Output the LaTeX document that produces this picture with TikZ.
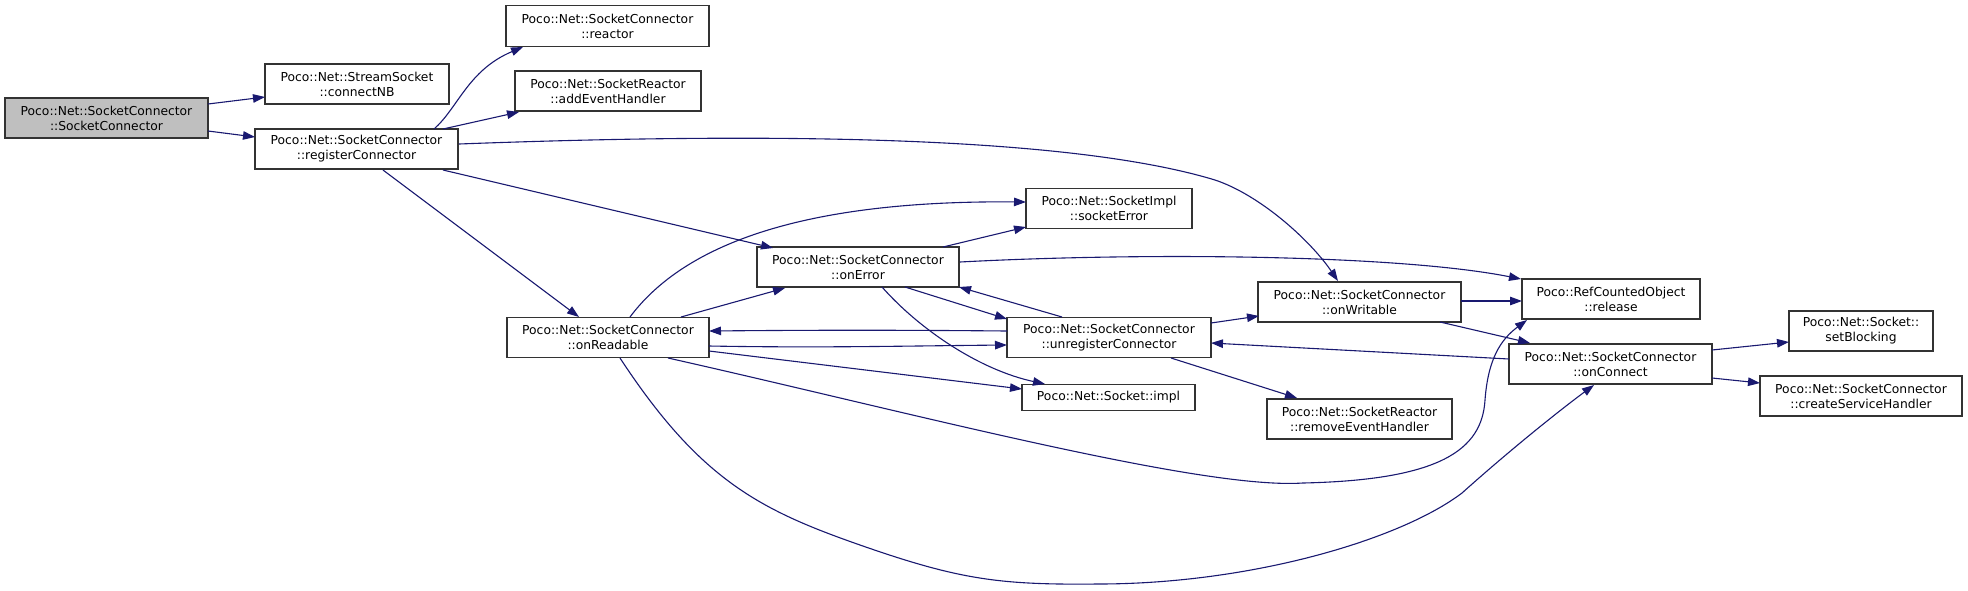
\documentclass[tikz,border=0pt]{standalone}
\usepackage{fontspec}
\setmainfont{DejaVu Sans}
\usetikzlibrary{arrows.meta}
\definecolor{edgecol}{HTML}{191970}
\definecolor{nodeborder}{HTML}{333333}
\definecolor{grayfill}{HTML}{BFBFBF}
\tikzset{
  box/.style={draw=nodeborder, line width=1.1pt, fill=white, rectangle, inner sep=0pt,
    minimum height=40pt, align=center, font=\fontsize{12.3}{15}\selectfont},
  onebox/.style={box, minimum height=26pt},
  edge/.style={draw=edgecol, line width=1.1pt, -{Triangle[length=12pt,width=8.5pt]}},
}
\begin{document}
\begin{tikzpicture}[x=1pt,y=-1pt]
\useasboundingbox (0,0) rectangle (1968,590);
% nodes
\node[box, fill=grayfill, minimum width=203pt] (sc) at (106.5,118) {Poco::Net::SocketConnector\\::SocketConnector};
\node[box, minimum width=184pt] (cnb) at (357,84) {Poco::Net::StreamSocket\\::connectNB};
\node[box, minimum width=203pt] (regc) at (356.5,149) {Poco::Net::SocketConnector\\::registerConnector};
\node[box, minimum width=203pt, minimum height=41pt] (react) at (607.5,26) {Poco::Net::SocketConnector\\::reactor};
\node[box, minimum width=186pt] (addeh) at (608,91) {Poco::Net::SocketReactor\\::addEventHandler};
\node[box, minimum width=202pt] (onread) at (608,337.5) {Poco::Net::SocketConnector\\::onReadable};
\node[box, minimum width=202pt] (onerr) at (858,267) {Poco::Net::SocketConnector\\::onError};
\node[box, minimum width=166pt] (sockerr) at (1109,208.5) {Poco::Net::SocketImpl\\::socketError};
\node[box, minimum width=204pt] (unreg) at (1109,337.5) {Poco::Net::SocketConnector\\::unregisterConnector};
\node[onebox, minimum width=173pt] (impl) at (1108.5,397.5) {Poco::Net::Socket::impl};
\node[box, minimum width=203pt] (onwr) at (1359.5,302) {Poco::Net::SocketConnector\\::onWritable};
\node[box, minimum width=185pt] (remeh) at (1359.5,419) {Poco::Net::SocketReactor\\::removeEventHandler};
\node[box, minimum width=178pt] (rel) at (1611,299) {Poco::RefCountedObject\\::release};
\node[box, minimum width=203pt] (onconn) at (1610.5,364) {Poco::Net::SocketConnector\\::onConnect};
\node[box, minimum width=144pt] (setb) at (1861,331) {Poco::Net::Socket::\\setBlocking};
\node[box, minimum width=202pt] (csh) at (1861,396) {Poco::Net::SocketConnector\\::createServiceHandler};
% edges
\draw[edge] ([shift={(101.5,-14)}]sc.center) -- ([shift={(-92,13)}]cnb.center);
\draw[edge] ([shift={(101.5,13)}]sc.center) -- ([shift={(-101.5,-12)}]regc.center);
\draw[edge] ([shift={(77.5,-20)}]regc.center) .. controls (458,108) and (468,70) .. ([shift={(-84.5,21)}]react.center);
\draw[edge] ([shift={(86.5,-20)}]regc.center) -- ([shift={(-89,21)}]addeh.center);
\draw[edge] ([shift={(102.5,-5)}]regc.center) .. controls (700,135) and (1050,130) .. (1215,180) .. controls (1260,195) and (1310,240) .. ([shift={(-21.5,-21)}]onwr.center);
\draw[edge] ([shift={(86.5,21)}]regc.center) -- ([shift={(-85,-19)}]onerr.center);
\draw[edge] ([shift={(26.5,21)}]regc.center) -- ([shift={(-29,-20.5)}]onread.center);
\draw[edge] ([shift={(22,-20.5)}]onread.center) .. controls (680,250) and (790,200) .. ([shift={(-83,-6.5)}]sockerr.center);
\draw[edge] ([shift={(73,-20.5)}]onread.center) -- ([shift={(-73,21)}]onerr.center);
\draw[edge] ([shift={(101,8.5)}]onread.center) .. controls (820,348) and (900,346) .. ([shift={(-102,7.5)}]unreg.center);
\draw[edge] ([shift={(-102,-6.5)}]unreg.center) .. controls (900,330) and (820,330) .. ([shift={(101,-6.5)}]onread.center);
\draw[edge] ([shift={(101,13.5)}]onread.center) -- ([shift={(-86.5,-8.5)}]impl.center);
\draw[edge] ([shift={(60,20.5)}]onread.center) .. controls (900,410) and (1200,490) .. (1303,483) .. controls (1440,480) and (1482,450) .. (1485,400) .. controls (1488,360) and (1500,340) .. ([shift={(-84,21)}]rel.center);
\draw[edge] ([shift={(12,20.5)}]onread.center) .. controls (700,480) and (760,510) .. (860,545) .. controls (960,580) and (1000,585) .. (1098,584) .. controls (1250,584) and (1400,540) .. (1462,493) .. controls (1510,450) and (1560,410) .. ([shift={(-16.5,21)}]onconn.center);
\draw[edge] ([shift={(85,-20)}]onerr.center) -- ([shift={(-83,18.5)}]sockerr.center);
\draw[edge] ([shift={(102,-5)}]onerr.center) .. controls (1150,252) and (1400,255) .. ([shift={(-90,-20)}]rel.center);
\draw[edge] ([shift={(47,20)}]onerr.center) -- ([shift={(-102,-18.5)}]unreg.center);
\draw[edge] ([shift={(-47,-20.5)}]unreg.center) -- ([shift={(101,20)}]onerr.center);
\draw[edge] ([shift={(24,20)}]onerr.center) .. controls (920,330) and (980,370) .. ([shift={(-63.5,-13.5)}]impl.center);
\draw[edge] ([shift={(102,-14.5)}]unreg.center) -- ([shift={(-100.5,14)}]onwr.center);
\draw[edge] ([shift={(62,20.5)}]unreg.center) -- ([shift={(-62.5,-21)}]remeh.center);
\draw[edge] ([shift={(101.5,-1)}]onwr.center) -- ([shift={(-89,2)}]rel.center);
\draw[edge] ([shift={(80.5,20)}]onwr.center) -- ([shift={(-80.5,-21)}]onconn.center);
\draw[edge] ([shift={(-101.5,-5)}]onconn.center) -- ([shift={(102,5.5)}]unreg.center);
\draw[edge] ([shift={(101.5,-14)}]onconn.center) -- ([shift={(-72,11)}]setb.center);
\draw[edge] ([shift={(101.5,14)}]onconn.center) -- ([shift={(-101,-13)}]csh.center);
\end{tikzpicture}
\end{document}
